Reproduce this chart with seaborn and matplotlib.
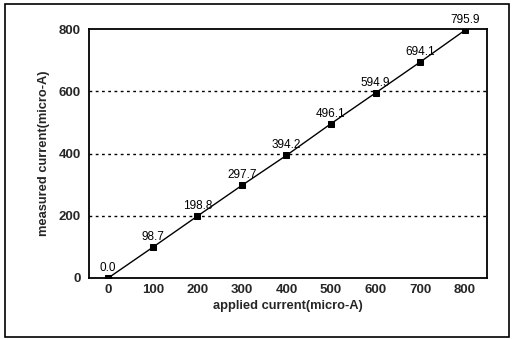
import numpy as np
import pandas as pd
import matplotlib
matplotlib.use('Agg')
import matplotlib.pyplot as plt
import seaborn as sns
from matplotlib.patches import Rectangle

applied = [0, 100, 200, 300, 400, 500, 600, 700, 800]
measured = [0.0, 98.7, 198.8, 297.7, 394.2, 496.1, 594.9, 694.1, 795.9]
x_ticks = [0, 100, 200, 300, 400, 500, 600, 700, 800]
y_ticks = [0, 200, 400, 600, 800]
grid_levels = [200, 400, 600]

sns.set_theme(style='white')
plt.rcParams['font.family'] = ['Liberation Sans', 'DejaVu Sans']

df = pd.DataFrame({'applied': applied, 'measured': measured})

fig = plt.figure(figsize=(5.12, 3.39), dpi=100)
ax = fig.add_axes([0.174, 0.180, 0.777, 0.734])

# dotted horizontal guides
for g in grid_levels:
    ax.axhline(g, color='black', lw=1.0, ls=(0, (2, 2.5)), zorder=1)

sns.lineplot(data=df, x='applied', y='measured', ax=ax, color='black',
             lw=1.0, marker='s', markersize=5, markeredgecolor='black',
             markerfacecolor='black', zorder=3)

for xv, yv in zip(applied, measured):
    ax.annotate(f'{yv:.1f}', (xv, yv), xytext=(0, 3), textcoords='offset points',
                ha='center', va='bottom', fontsize=8.5, color='black')

ax.set_xlim(-43, 850)
ax.set_ylim(0, 800)
ax.set_xticks(x_ticks)
ax.set_yticks(y_ticks)
ax.tick_params(axis='x', direction='inout', length=5, width=1, labelsize=9.5, pad=2)
ax.tick_params(axis='y', direction='out', length=3, width=1, labelsize=9.5, pad=3)
for lab in ax.get_xticklabels() + ax.get_yticklabels():
    lab.set_fontweight('bold')

for s in ax.spines.values():
    s.set_color('black')
    s.set_linewidth(1.3)

ax.set_xlabel('applied current(micro-A)', fontsize=9.3, fontweight='bold', labelpad=3)
ax.set_ylabel('measured current(micro-A)', fontsize=9.3, fontweight='bold', labelpad=6)

fig.patches.append(Rectangle((0.01, 0.006), 0.985, 0.982, transform=fig.transFigure,
                             fill=False, edgecolor='black', lw=1.2))

fig.savefig('out.png', dpi=100)
